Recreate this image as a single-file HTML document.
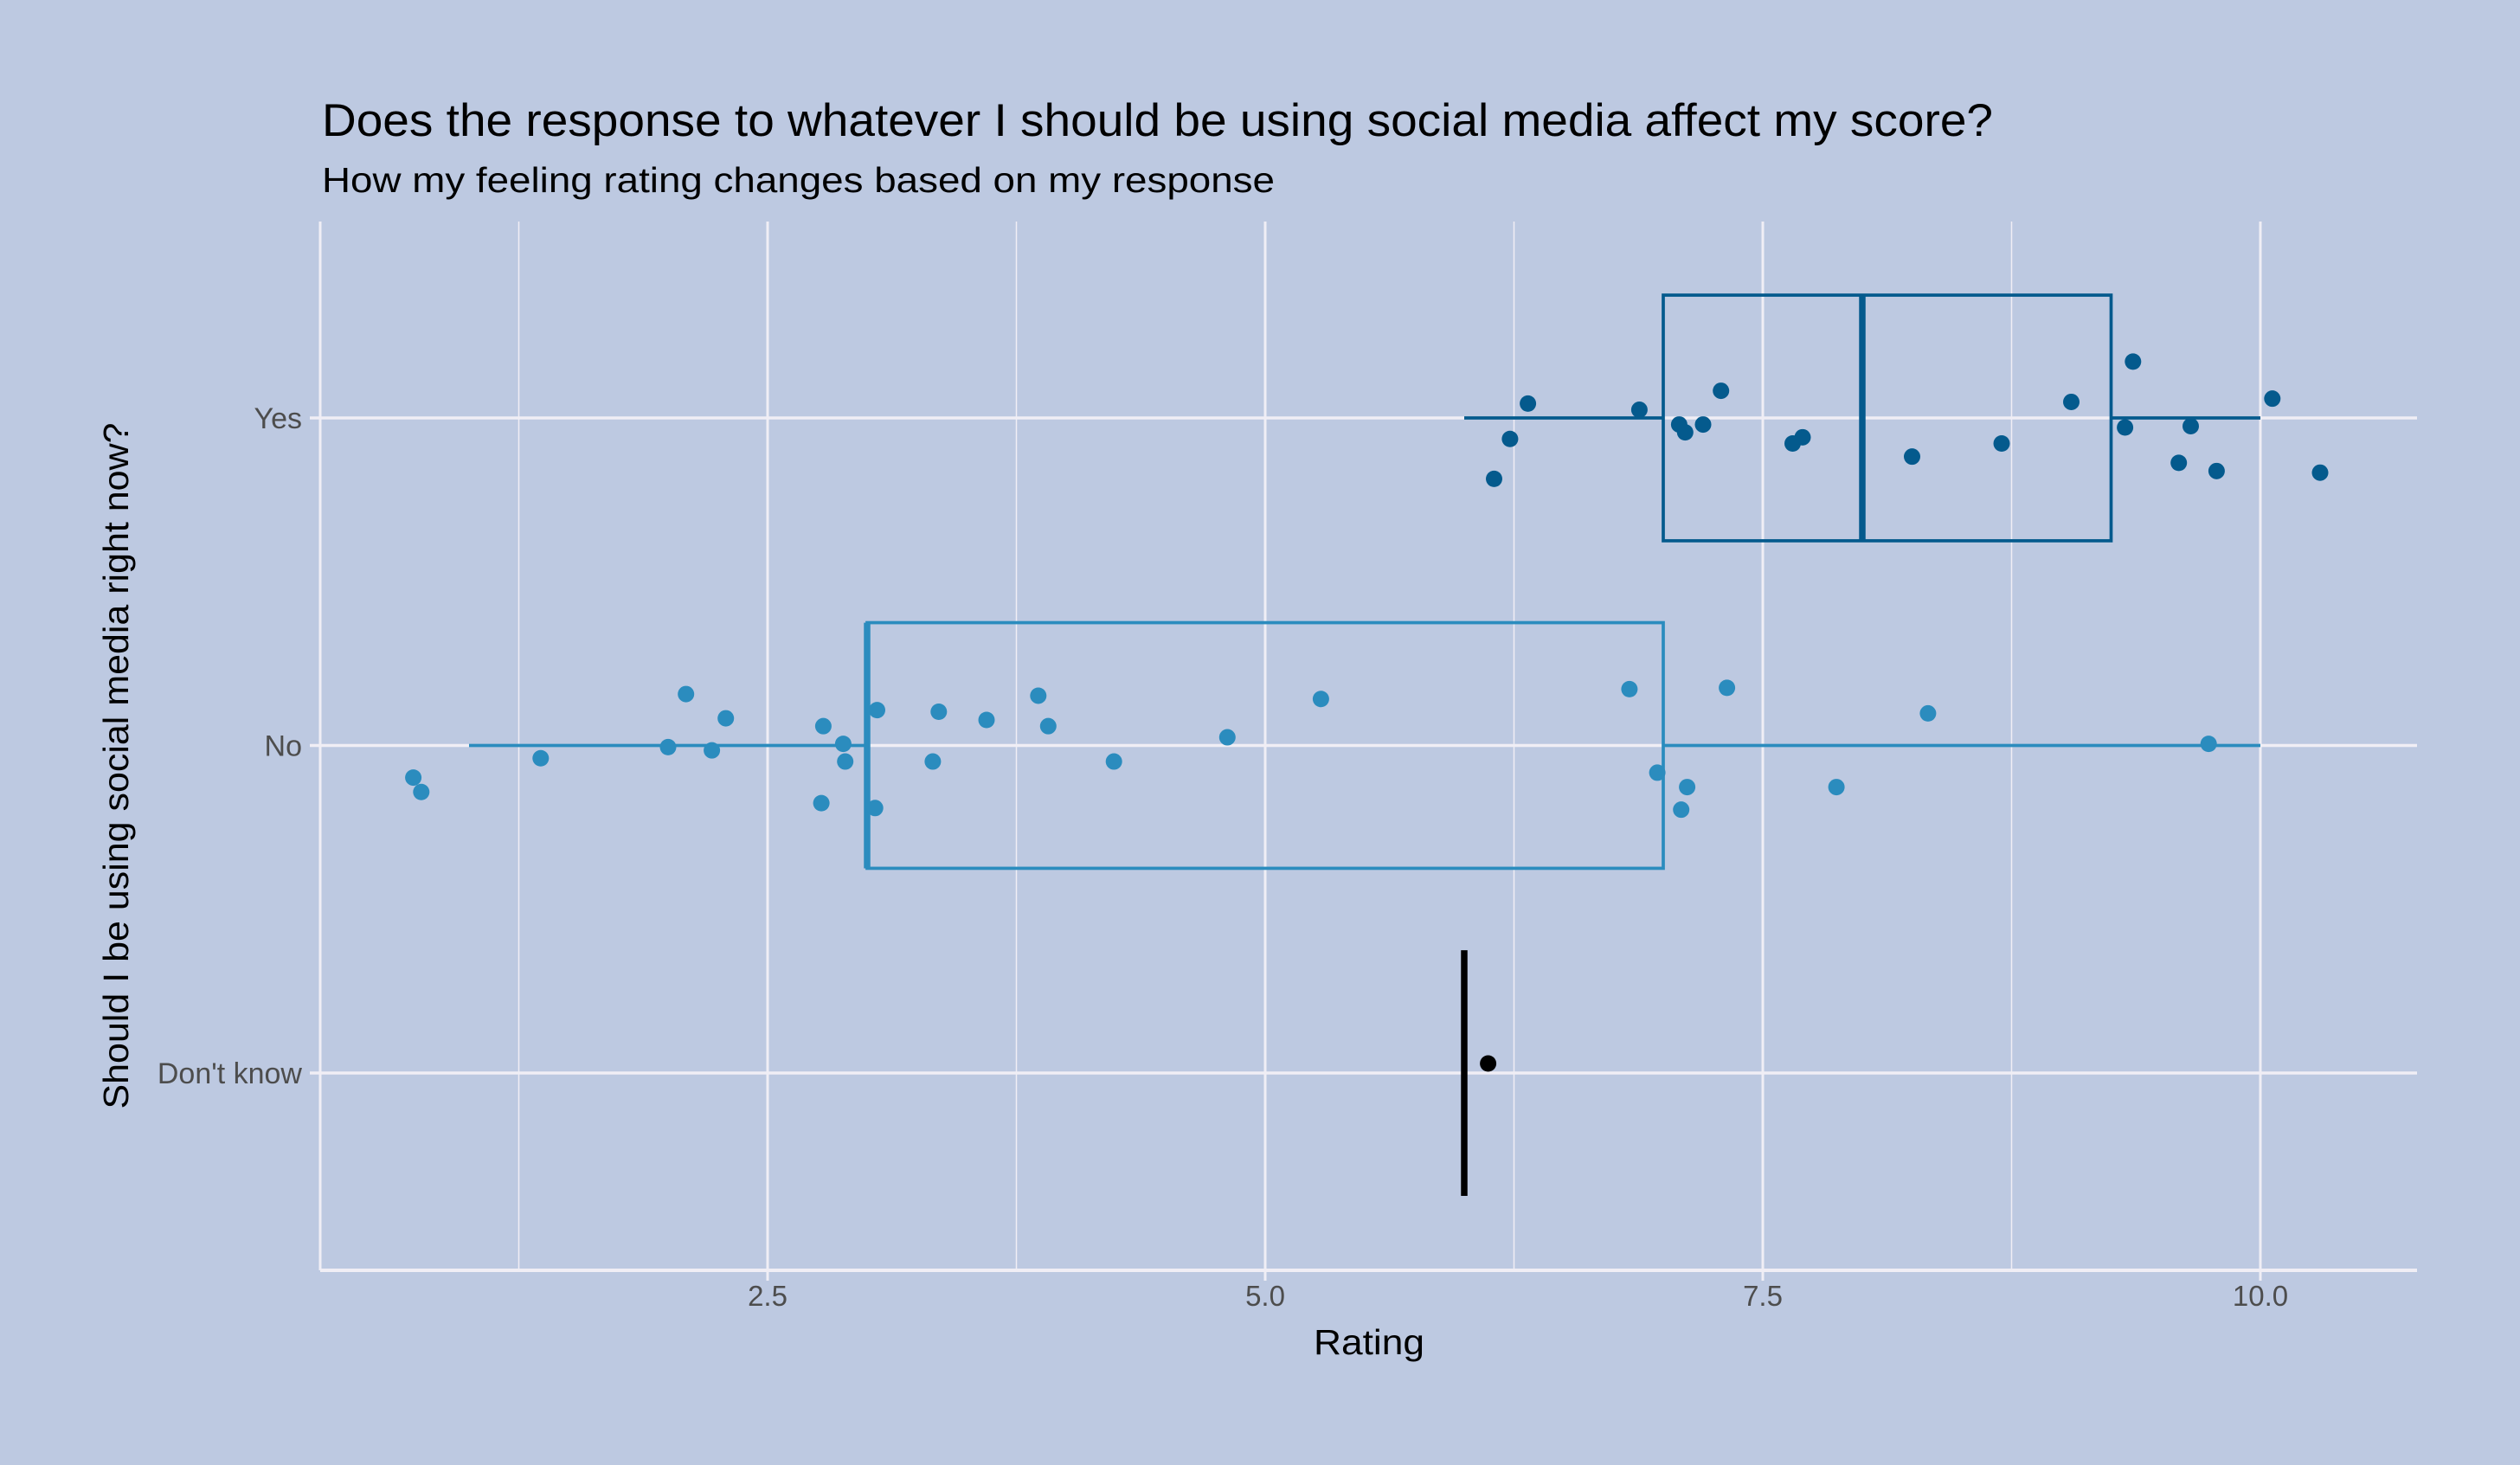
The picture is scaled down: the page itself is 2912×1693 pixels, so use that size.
<!DOCTYPE html>
<html><head><meta charset="utf-8"><style>
html,body{margin:0;padding:0;background:#bdc9e1;}
svg{display:block;font-family:"Liberation Sans",sans-serif;}
</style></head><body>
<svg id="chart" width="2912" height="1693" viewBox="0 0 2912 1693">
<rect x="0" y="0" width="2912" height="1693" fill="#bdc9e1"/>
<text x="372" y="157" font-size="53" textLength="1931" lengthAdjust="spacingAndGlyphs" fill="#000">Does the response to whatever I should be using social media affect my score?</text>
<text x="372" y="222" font-size="41" textLength="1101" lengthAdjust="spacingAndGlyphs" fill="#000">How my feeling rating changes based on my response</text>
<g id="grid"></g>
<g id="marks"></g>
<g id="axes"></g>
<text x="1582" y="1565" font-size="41" text-anchor="middle" textLength="128" lengthAdjust="spacingAndGlyphs" fill="#000">Rating</text>
<text transform="translate(148,885) rotate(-90)" font-size="41" text-anchor="middle" textLength="793" lengthAdjust="spacingAndGlyphs" fill="#000">Should I be using social media right now?</text>
</svg>
<script>
const categories = ["Yes", "No", "Don't know"];
const colors = ["#045a8d", "#2b8cbe", "#000000"];
const xTicks = [2.5, 5.0, 7.5, 10.0];
const xTickLabels = ["2.5", "5.0", "7.5", "10.0"];
const xMinor = [1.25, 3.75, 6.25, 8.75];
// box stats: [whiskerLow, q1, median, q3, whiskerHigh]
const boxYes = [6.0, 7.0, 8.0, 9.25, 10.0];
const boxNo = [1.0, 3.0, 3.0, 7.0, 10.0];
const boxDK = [6.0, 6.0, 6.0, 6.0, 6.0];
const yesValues = [6.15,6.23,6.32,6.88,7.08,7.11,7.20,7.29,7.65,7.70,8.25,8.70,9.05,9.32,9.36,9.59,9.65,9.78,10.06,10.30];
const yesJitter = [-0.186,-0.064,0.044,0.025,-0.02,-0.044,-0.02,0.083,-0.078,-0.059,-0.118,-0.078,0.049,-0.029,0.172,-0.137,-0.025,-0.162,0.059,-0.167];
const noValues = [0.72,0.76,1.36,2.00,2.09,2.22,2.29,2.77,2.78,2.88,2.89,3.04,3.05,3.33,3.36,3.60,3.86,3.91,4.24,4.81,5.28,6.83,6.97,7.09,7.12,7.32,7.87,8.33,9.74];
const noJitter = [-0.098,-0.142,-0.039,-0.005,0.157,-0.015,0.083,-0.176,0.059,0.005,-0.049,-0.191,0.108,-0.049,0.103,0.078,0.152,0.059,-0.049,0.025,0.142,0.172,-0.083,-0.196,-0.127,0.176,-0.127,0.098,0.005];
const dkValues = [6.12];
const dkJitter = [0.029];

const NS = "http://www.w3.org/2000/svg";
const PL = 370, PR = 2793, PT = 256, PB = 1468;
function xs(v){ return 312 + 230 * v; }
function yc(i){ return 483 + i * 378.5; }
function yOff(i, off){ return yc(i) - off * 378.5; }
function mk(parent, tag, attrs){
  const e = document.createElementNS(NS, tag);
  for (const k in attrs) e.setAttribute(k, attrs[k]);
  parent.appendChild(e);
  return e;
}
const grid = document.getElementById('grid');
const marks = document.getElementById('marks');
const axes = document.getElementById('axes');

xMinor.forEach(v => {
  const l = mk(grid, 'line', {x1: xs(v), x2: xs(v), y1: PT, y2: PB, stroke: '#f0eef5', 'stroke-width': 1.5});
  
  
});
xTicks.forEach((v, i) => {
  const l = mk(grid, 'line', {x1: xs(v), x2: xs(v), y1: PT, y2: PB + 12, stroke: '#f0eef5', 'stroke-width': 3});
  
  
  const t = mk(axes, 'text', {x: xs(v), y: 1509, 'font-size': 33, 'text-anchor': 'middle', fill: '#4d4d4d'});
  t.textContent = xTickLabels[i];
  
  
});
categories.forEach((c, i) => {
  const l = mk(grid, 'line', {x1: PL - 12, x2: PR, y1: yc(i), y2: yc(i), stroke: '#f0eef5', 'stroke-width': 3.5});
  
  
  const t = mk(axes, 'text', {x: 349, y: yc(i) + 12, 'font-size': 34, 'text-anchor': 'end', fill: '#4d4d4d'});
  t.textContent = c;
  
  
});
const ax1 = mk(axes, 'line', {x1: PL, x2: PL, y1: PT, y2: PB, stroke: '#f0eef5', 'stroke-width': 3});


const ax2 = mk(axes, 'line', {x1: PL, x2: PR, y1: PB, y2: PB, stroke: '#f0eef5', 'stroke-width': 4});



function drawBox(stats, i, name){
  const g = mk(marks, 'g', {});
  
  
  const col = colors[i], y = yc(i), h = 0.375 * 378.5;
  mk(g, 'line', {x1: xs(stats[0]), x2: xs(stats[1]), y1: y, y2: y, stroke: col, 'stroke-width': 3.7});
  mk(g, 'line', {x1: xs(stats[3]), x2: xs(stats[4]), y1: y, y2: y, stroke: col, 'stroke-width': 3.7});
  mk(g, 'rect', {x: xs(stats[1]), y: y - h, width: Math.max(0, xs(stats[3]) - xs(stats[1])), height: 2 * h, fill: 'none', stroke: col, 'stroke-width': 3.7});
  mk(g, 'line', {x1: xs(stats[2]), x2: xs(stats[2]), y1: y - h, y2: y + h, stroke: col, 'stroke-width': 7.5});
}
drawBox(boxYes, 0, 'box-yes');
drawBox(boxNo, 1, 'box-no');
drawBox(boxDK, 2, 'box-dont-know');

function drawPts(vals, jit, i, name){
  vals.forEach((v, k) => {
    const c = mk(marks, 'circle', {cx: xs(v), cy: yOff(i, jit[k]), r: 9.5, fill: colors[i]});
    
    
  });
}
drawPts(yesValues, yesJitter, 0, 'point-yes');
drawPts(noValues, noJitter, 1, 'point-no');
drawPts(dkValues, dkJitter, 2, 'point-dont-know');
</script>
</body></html>
